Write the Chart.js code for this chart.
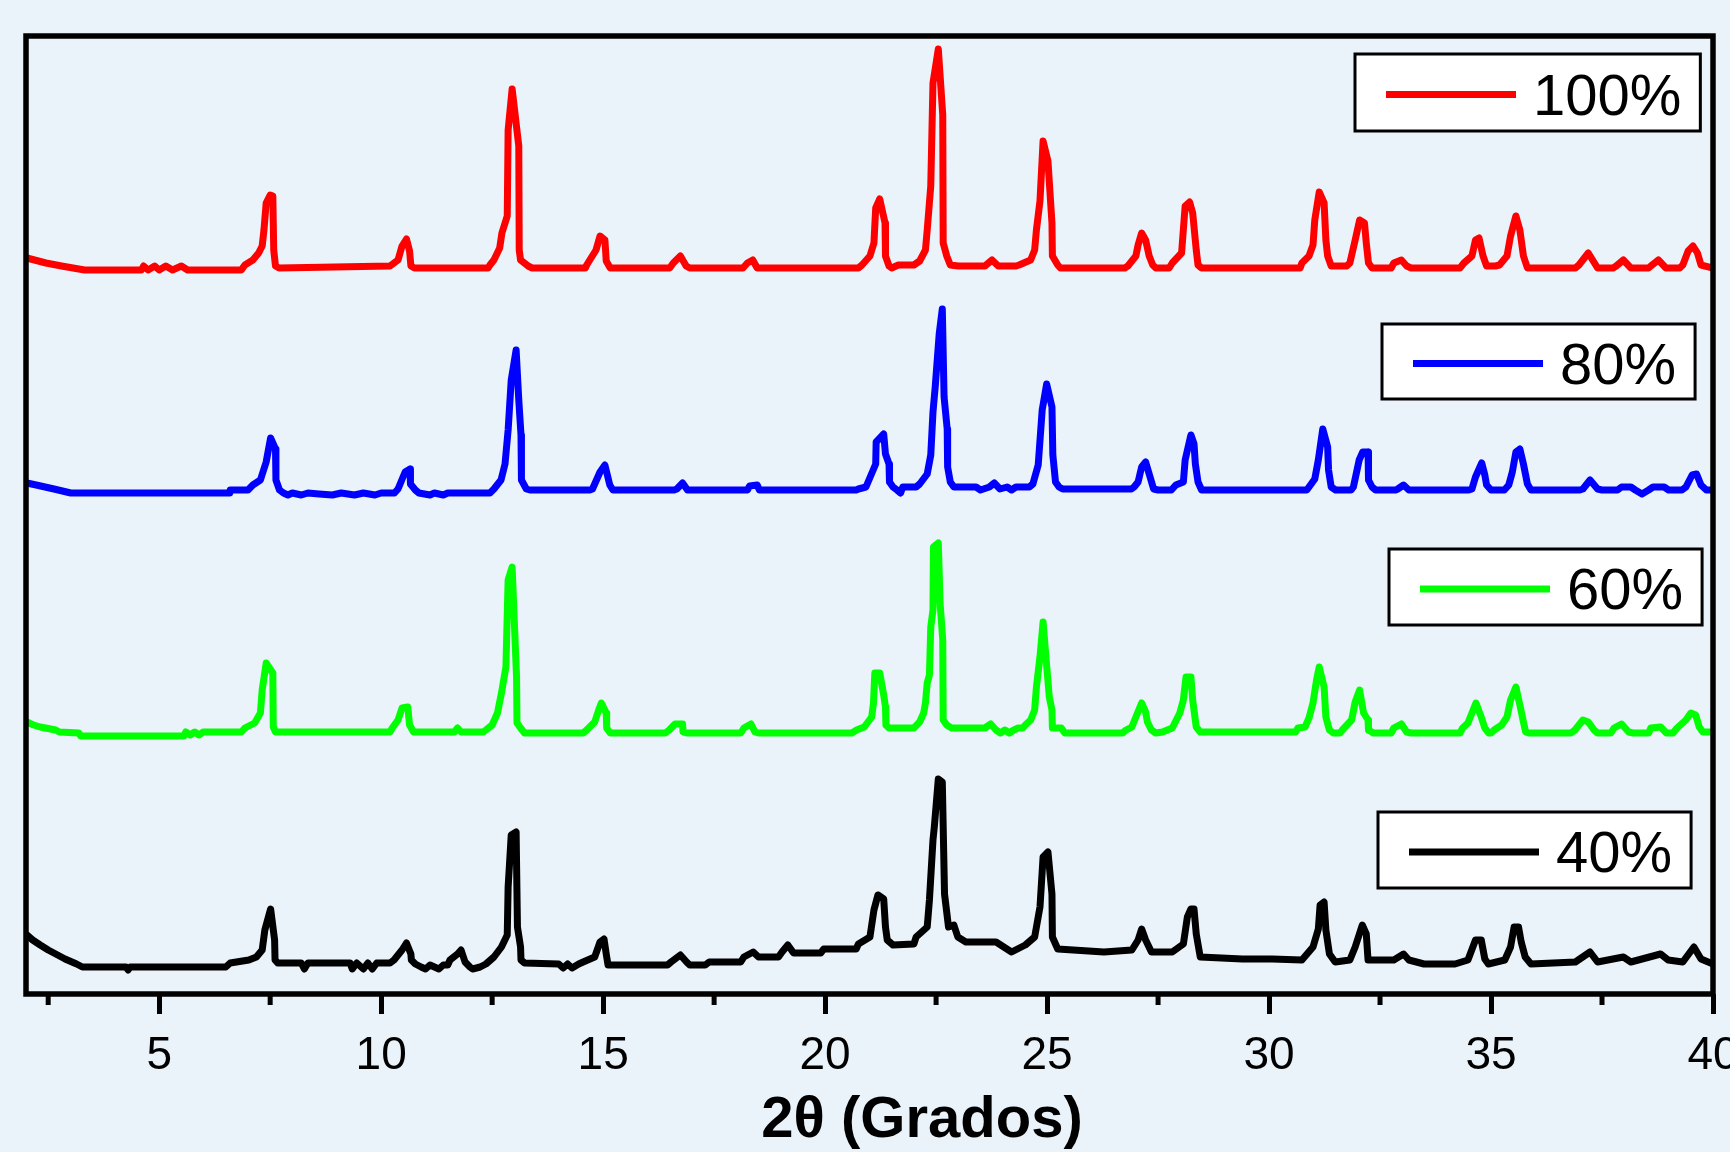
<!DOCTYPE html>
<html>
<head>
<meta charset="utf-8">
<title>DRX</title>
<script src="https://cdn.jsdelivr.net/npm/chart.js@4.4.1/dist/chart.umd.min.js"></script>
<style>
  html, body { margin: 0; padding: 0; background: #eaf2fa; overflow: hidden; }
  canvas { display: block; }
</style>
</head>
<body>
<canvas id="ChartDRX" width="1730" height="1152"></canvas>
<script>
// patterns: [2θ, intensity above own baseline (a.u.)]
const pattern100 = [
  [2.02,10],[2.45,5],[2.80,2],[3.32,-2],[4.6,-2],[4.65,2],[4.75,-2],[4.9,2],[5.0,-2],[5.15,2],[5.3,-2],[5.5,2],[5.64,-2],[6.85,-2],
  [6.93,3],[7.11,8],[7.24,15],[7.32,22],[7.36,38],[7.41,65],[7.50,73],[7.56,72],[7.58,18],[7.62,2],[7.70,0],
  [10.2,2],[10.38,8],[10.47,22],[10.57,29],[10.64,17],[10.67,2],[10.75,0],
  [12.41,0],[12.45,3],[12.54,8],[12.67,20],[12.72,35],[12.84,52],[12.86,138],[12.95,179],[13.1,122],[13.11,18],[13.14,8],[13.31,2],[13.4,0],
  [14.6,0],[14.63,3],[14.84,18],[14.93,32],[15.04,28],[15.07,7],[15.16,0],
  [16.5,0],[16.58,5],[16.74,12],[16.87,2],[16.95,0],
  [18.15,0],[18.25,5],[18.37,8],[18.47,0],
  [20.75,0],[20.83,3],[21.01,12],[21.1,25],[21.14,60],[21.23,69],[21.35,45],[21.36,12],[21.44,2],[21.5,0],[21.65,3],[22.0,3],
  [22.13,7],[22.26,18],[22.3,38],[22.38,82],[22.43,185],[22.55,219],[22.65,153],[22.66,25],[22.74,12],[22.82,3],[23.0,2],[23.6,2],[23.76,8],[23.9,2],[24.3,2],
  [24.37,3],[24.63,8],[24.72,18],[24.76,38],[24.84,67],[24.91,127],[25.02,107],[25.11,45],[25.12,12],[25.24,3],[25.3,0],
  [26.75,0],[26.82,2],[27.0,12],[27.05,23],[27.13,35],[27.22,28],[27.3,12],[27.38,3],[27.45,0],
  [27.75,0],[27.82,5],[28.03,15],[28.11,62],[28.21,66],[28.28,55],[28.36,18],[28.4,3],[28.48,0],
  [30.7,0],[30.74,5],[30.9,12],[30.99,23],[31.03,48],[31.13,76],[31.24,65],[31.28,28],[31.32,12],[31.4,2],[31.75,2],
  [31.82,5],[31.94,28],[32.04,48],[32.15,45],[32.19,25],[32.24,5],[32.32,0],
  [32.75,0],[32.81,5],[32.98,8],[33.1,2],[33.2,0],
  [34.3,0],[34.39,5],[34.57,12],[34.65,28],[34.73,30],[34.82,12],[34.9,2],
  [35.1,2],[35.19,3],[35.36,12],[35.44,32],[35.56,52],[35.65,38],[35.73,12],[35.82,0],
  [36.9,0],[36.98,3],[37.19,15],[37.4,0],
  [37.75,0],[37.82,2],[37.98,8],[38.15,0],
  [38.55,0],[38.6,2],[38.77,8],[38.94,0],
  [39.25,0],[39.32,3],[39.44,17],[39.55,22],[39.65,15],[39.73,3],[40.0,0]
];

const pattern80 = [
  [2.02,10],[2.23,8],[2.63,4],[3.01,0],[6.59,0],[6.6,3],[7.0,3],
  [7.11,8],[7.28,13],[7.41,31],[7.51,55],[7.62,44],[7.63,13],[7.71,3],[7.8,0],[7.9,-2],[8.0,0],[8.2,-2],[8.35,0],[8.6,-1],[8.9,-2],[9.1,0],[9.4,-2],[9.6,0],[9.86,-2],[10.0,0],[10.3,0],
  [10.38,4],[10.54,21],[10.65,24],[10.66,9],[10.77,3],[10.85,0],[11.1,-2],[11.2,0],[11.4,-2],[11.5,0],[12.45,0],
  [12.54,4],[12.7,13],[12.79,29],[12.86,63],[12.93,113],[13.04,143],[13.1,93],[13.15,58],[13.16,13],[13.27,4],[13.35,3],
  [14.7,3],[14.76,4],[14.93,21],[15.04,28],[15.15,8],[15.22,3],
  [16.6,3],[16.66,4],[16.79,10],[16.9,3],
  [18.25,3],[18.3,7],[18.47,8],[18.52,3],
  [20.7,3],[20.75,4],[20.92,6],[21.14,29],[21.15,51],[21.32,59],[21.36,39],[21.44,29],[21.45,11],[21.53,6],[21.62,3],[21.7,0],[21.75,6],[22.05,6],
  [22.13,9],[22.3,19],[22.38,38],[22.43,81],[22.48,106],[22.57,159],[22.64,184],[22.68,96],[22.75,64],[22.76,26],[22.82,11],[22.9,6],[23.4,6],[23.5,3],[23.7,6],[23.81,10],[23.94,4],[24.1,6],[24.2,3],[24.3,6],[24.6,6],
  [24.68,9],[24.8,28],[24.89,83],[24.99,109],[25.11,86],[25.13,38],[25.19,11],[25.27,6],[25.35,4],[26.9,4],
  [26.96,6],[27.05,11],[27.13,26],[27.22,31],[27.3,19],[27.4,4],[27.5,3],
  [27.8,3],[27.9,8],[28.07,11],[28.11,33],[28.24,58],[28.31,49],[28.34,29],[28.4,11],[28.48,3],
  [30.85,3],[30.9,6],[31.03,14],[31.11,33],[31.21,64],[31.32,46],[31.34,23],[31.4,6],[31.5,3],
  [31.85,3],[31.9,6],[32.03,33],[32.11,41],[32.23,41],[32.24,13],[32.32,6],[32.4,3],
  [32.85,3],[32.9,4],[33.03,8],[33.15,3],
  [34.5,3],[34.57,4],[34.65,16],[34.79,30],[34.86,18],[34.9,8],[35.0,3],
  [35.3,3],[35.4,8],[35.48,21],[35.56,41],[35.65,44],[35.73,29],[35.82,9],[35.9,3],
  [37.0,3],[37.07,4],[37.23,13],[37.4,4],[37.5,3],
  [37.85,3],[37.94,6],[38.15,6],[38.25,3],[38.4,-1],[38.55,3],[38.65,6],[38.9,6],[39.0,3],
  [39.3,3],[39.39,6],[39.53,18],[39.63,19],[39.73,8],[39.85,3],[40.0,3]
];

const pattern60 = [
  [2.02,13],[2.17,10],[2.32,8],[2.67,5],[2.75,3],[3.19,2],[3.23,-1],[5.56,-1],[5.6,3],[5.7,0],[5.8,3],[5.9,0],[5.99,3],[6.85,3],
  [6.93,7],[7.15,12],[7.28,22],[7.32,45],[7.41,72],[7.56,62],[7.57,8],[7.62,3],
  [10.2,3],[10.25,7],[10.38,15],[10.47,27],[10.6,28],[10.64,10],[10.73,3],
  [11.65,3],[11.72,7],[11.8,3],
  [12.3,3],[12.36,5],[12.5,10],[12.62,22],[12.71,42],[12.81,68],[12.86,155],[12.95,168],[13.05,58],[13.06,12],[13.14,7],[13.23,2],
  [14.55,2],[14.63,5],[14.81,13],[14.9,25],[14.96,32],[15.07,22],[15.08,7],[15.16,2],
  [16.4,2],[16.49,5],[16.62,11],[16.79,11],[16.8,3],[16.88,2],
  [18.1,2],[18.17,7],[18.33,11],[18.42,3],[18.5,2],
  [20.6,2],[20.71,5],[20.88,8],[21.05,18],[21.09,32],[21.12,62],[21.23,62],[21.32,40],[21.36,28],[21.37,10],[21.44,7],[22.0,7],
  [22.13,13],[22.22,22],[22.26,32],[22.3,52],[22.35,60],[22.38,108],[22.43,125],[22.44,188],[22.55,192],[22.59,132],[22.65,95],[22.66,15],[22.74,10],[22.85,7],[23.6,7],
  [23.73,11],[23.85,5],[23.95,2],[24.05,5],[24.15,2],[24.25,5],[24.35,7],[24.45,7],
  [24.51,10],[24.63,15],[24.72,25],[24.76,48],[24.84,78],[24.91,113],[24.98,75],[25.05,38],[25.11,25],[25.12,7],[25.32,7],[25.4,2],
  [26.7,2],[26.78,5],[26.91,8],[27.0,18],[27.13,32],[27.22,23],[27.26,13],[27.35,5],[27.45,2],
  [27.6,3],[27.82,7],[27.99,22],[28.07,35],[28.13,58],[28.24,58],[28.28,35],[28.36,8],[28.45,3],
  [30.6,3],[30.65,7],[30.81,8],[30.9,17],[30.99,32],[31.07,55],[31.13,68],[31.24,48],[31.28,18],[31.36,5],[31.45,2],
  [31.6,2],[31.65,5],[31.86,15],[31.94,33],[32.04,45],[32.13,22],[32.23,15],[32.24,5],[32.35,2],
  [32.75,2],[32.81,7],[32.98,11],[33.1,3],[33.2,2],
  [34.3,2],[34.36,7],[34.48,12],[34.57,22],[34.66,32],[34.78,18],[34.86,7],[34.95,2],
  [35.0,2],[35.07,5],[35.24,10],[35.36,18],[35.44,35],[35.56,48],[35.65,30],[35.73,13],[35.78,3],[35.85,2],
  [36.8,2],[36.89,5],[37.07,15],[37.19,13],[37.32,5],[37.4,2],
  [37.7,2],[37.77,7],[37.94,11],[38.1,3],[38.2,2],
  [38.55,2],[38.6,7],[38.82,8],[38.95,2],
  [39.1,2],[39.19,7],[39.39,15],[39.5,22],[39.61,20],[39.69,8],[39.77,3],[40.0,3]
];

const pattern40 = [
  [2.02,32],[2.15,27],[2.32,22],[2.5,17],[2.67,13],[2.88,8],[3.14,3],[3.27,0],[4.25,0],[4.3,-3],[4.35,0],[6.5,0],
  [6.6,4],[7.02,7],[7.19,10],[7.32,17],[7.38,37],[7.51,58],[7.6,27],[7.61,7],[7.67,4],[8.2,4],[8.27,-2],[8.35,4],[9.3,4],[9.35,-2],[9.45,4],[9.6,-2],[9.7,4],[9.8,-2],[9.9,4],[10.2,4],
  [10.29,7],[10.47,17],[10.57,24],[10.67,13],[10.68,7],[10.77,3],[10.9,0],[11.0,-2],[11.1,2],[11.2,0],[11.3,-2],[11.4,2],[11.5,2],
  [11.55,7],[11.72,13],[11.8,17],[11.89,5],[12.0,0],[12.06,-2],[12.23,0],
  [12.36,3],[12.54,10],[12.71,20],[12.84,32],[12.86,80],[12.93,132],[13.04,135],[13.07,40],[13.14,20],[13.15,7],[13.23,4],
  [14.0,3],[14.1,-1],[14.2,3],[14.3,-1],[14.45,3],
  [14.55,5],[14.81,10],[14.93,25],[15.02,28],[15.07,13],[15.11,2],[16.45,2],
  [16.53,5],[16.74,12],[16.88,5],[16.95,2],[17.3,2],[17.39,5],[18.1,5],
  [18.17,10],[18.38,15],[18.5,10],[18.95,10],[19.03,15],[19.16,22],[19.29,14],[19.9,14],[19.97,18],[20.7,18],
  [20.75,23],[21.01,30],[21.1,57],[21.19,72],[21.32,68],[21.36,40],[21.4,27],[21.53,22],[22.0,23],
  [22.05,30],[22.3,40],[22.35,67],[22.43,127],[22.46,140],[22.55,188],[22.64,185],[22.69,73],[22.78,40],[22.9,42],[22.99,30],[23.17,25],[23.85,25],[24.2,15],[24.51,22],
  [24.72,30],[24.84,60],[24.91,110],[25.02,115],[25.11,73],[25.12,30],[25.24,18],[26.28,15],[26.91,17],
  [27.05,27],[27.13,38],[27.22,27],[27.35,15],[27.82,15],
  [28.07,23],[28.16,50],[28.24,58],[28.31,58],[28.36,33],[28.45,10],[29.4,8],[30.07,8],[30.74,7],
  [30.99,20],[31.11,38],[31.15,62],[31.24,65],[31.28,37],[31.36,13],[31.49,5],[31.82,7],
  [31.94,20],[32.1,42],[32.19,33],[32.23,7],[32.81,7],[33.03,13],[33.15,7],[33.49,3],[34.19,3],[34.48,7],
  [34.65,27],[34.78,27],[34.86,8],[34.94,3],[35.31,7],[35.44,20],[35.52,40],[35.62,40],[35.68,25],[35.77,10],[35.9,3],[36.9,5],
  [37.23,15],[37.4,5],[37.98,10],[38.15,5],[38.82,13],[38.99,7],[39.32,5],[39.57,20],[39.73,8],[40.0,3]
];

const seriesLabels = ['100%', '80%', '60%', '40%'];
const seriesColors = ['#ff0000', '#0000ff', '#00ff00', '#000000'];
const seriesOffsets = [726, 501, 259, 27];   // vertical shift of each pattern
const patterns = [pattern100, pattern80, pattern60, pattern40];

const xMajorTicks = [5, 10, 15, 20, 25, 30, 35, 40];
const xMinorTicks = [2.5, 7.5, 12.5, 17.5, 22.5, 27.5, 32.5, 37.5];
const xTitle = '2θ (Grados)';

// legend boxes (one per pattern), canvas px
const legendBoxes = [
  { x: 1355, y: 54, h: 77 },
  { x: 1382, y: 324, h: 75 },
  { x: 1389, y: 549, h: 76 },
  { x: 1378, y: 812, h: 76 }
];

const FONT = "'Liberation Sans', Arial, sans-serif";
const BG = '#eaf2fa';

const datasets = patterns.map((p, i) => ({
  label: seriesLabels[i],
  data: p.map(pt => ({ x: pt[0], y: pt[1] + seriesOffsets[i] })),
  borderColor: seriesColors[i],
  backgroundColor: seriesColors[i],
  borderWidth: 7,
  borderJoinStyle: 'round',
  borderCapStyle: 'round',
  pointRadius: 0,
  tension: 0,
  fill: false
}));

const decorPlugin = {
  id: 'decor',
  beforeDraw(chart) {
    const ctx = chart.ctx;
    ctx.save();
    ctx.fillStyle = BG;
    ctx.fillRect(0, 0, chart.width, chart.height);
    ctx.restore();
  },
  afterDatasetsDraw(chart) {
    const ctx = chart.ctx;
    const area = chart.chartArea;
    const xs = chart.scales.x;
    ctx.save();

    // frame
    ctx.strokeStyle = '#000';
    ctx.lineWidth = 5.5;
    ctx.strokeRect(area.left, area.top, area.right - area.left, area.bottom - area.top);

    // minor ticks
    ctx.lineWidth = 5;
    xMinorTicks.forEach(v => {
      const px = xs.getPixelForValue(v);
      ctx.beginPath();
      ctx.moveTo(px, area.bottom);
      ctx.lineTo(px, area.bottom + 11);
      ctx.stroke();
    });

    // axis title
    ctx.fillStyle = '#000';
    ctx.font = 'bold 58px ' + FONT;
    ctx.textAlign = 'center';
    ctx.textBaseline = 'alphabetic';
    ctx.fillText(xTitle, 922, 1137);

    // legends
    ctx.font = '58px ' + FONT;
    ctx.textAlign = 'left';
    chart.data.datasets.forEach((ds, i) => {
      const b = legendBoxes[i];
      const tw = ctx.measureText(ds.label).width;
      const w = 178 + tw + 19;
      const mid = b.y + b.h / 2;
      ctx.fillStyle = '#ffffff';
      ctx.fillRect(b.x, b.y, w, b.h);
      ctx.strokeStyle = '#000';
      ctx.lineWidth = 3;
      ctx.strokeRect(b.x, b.y, w, b.h);
      ctx.strokeStyle = ds.borderColor;
      ctx.lineWidth = 7;
      ctx.beginPath();
      ctx.moveTo(b.x + 31, mid + 2);
      ctx.lineTo(b.x + 161, mid + 2);
      ctx.stroke();
      ctx.fillStyle = '#000';
      ctx.fillText(ds.label, b.x + 178, mid + 22);
    });
    ctx.restore();
  }
};

const ctx = document.getElementById('ChartDRX').getContext('2d');
const chartDRX = new Chart(ctx, {
  type: 'line',
  data: { datasets: datasets },
  options: {
    responsive: false,
    animation: false,
    events: [],
    layout: { padding: { top: 36, right: 17, left: 0, bottom: 0 } },
    plugins: {
      legend: { display: false },
      tooltip: { enabled: false }
    },
    scales: {
      x: {
        type: 'linear',
        min: 2,
        max: 40,
        afterBuildTicks: (scale) => {
          scale.ticks = xMajorTicks.map(v => ({ value: v }));
        },
        afterFit: (scale) => {
          scale.height = 158;
          scale.paddingLeft = 0;
          scale.paddingRight = 0;
        },
        border: { display: false },
        grid: {
          drawOnChartArea: false,
          drawTicks: true,
          tickLength: 20,
          tickWidth: 5,
          tickColor: '#000'
        },
        ticks: {
          autoSkip: false,
          maxRotation: 0,
          padding: 15,
          color: '#000',
          font: { family: FONT, size: 46 }
        }
      },
      y: {
        min: 0,
        max: 958,
        afterFit: (scale) => {
          scale.width = 26;
          scale.paddingTop = 0;
          scale.paddingBottom = 0;
        },
        ticks: { display: false },
        grid: { display: false },
        border: { display: false }
      }
    }
  },
  plugins: [decorPlugin]
});
</script>
</body>
</html>
